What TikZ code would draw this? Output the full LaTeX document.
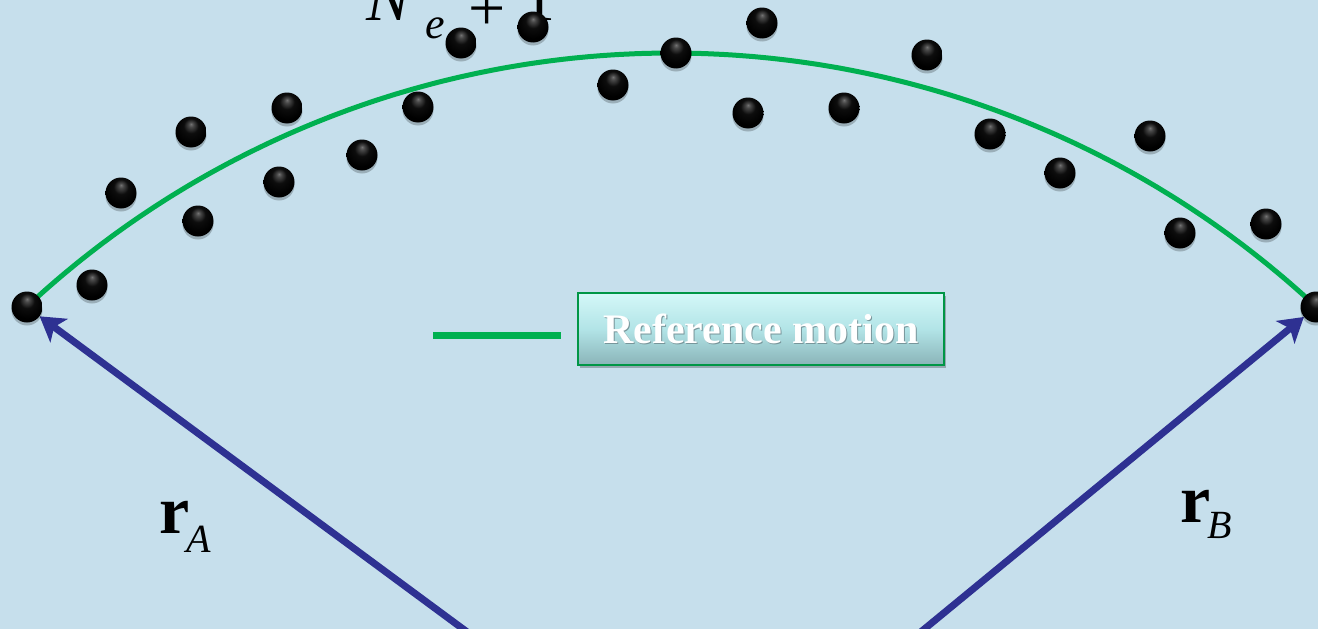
\documentclass[tikz,border=0pt]{standalone}
\usepackage{fontspec}
\setmainfont{Liberation Serif}
\usetikzlibrary{arrows.meta,shadows}
\definecolor{bg}{RGB}{198,223,236}
\definecolor{pgreen}{RGB}{0,176,80}
\definecolor{vblue}{RGB}{46,49,146}
\definecolor{boxtop}{RGB}{212,248,248}
\definecolor{boxmid}{RGB}{178,228,231}
\definecolor{boxbot}{RGB}{138,180,184}
\definecolor{boxedge}{RGB}{0,150,70}
\definecolor{txtshadow}{RGB}{120,150,155}
\pgfdeclareradialshading{darkball}{\pgfpoint{0bp}{13bp}}{color(0bp)=(black!55); color(4bp)=(black!72); color(12bp)=(black!95); color(25bp)=(black); color(50bp)=(black)}
\pgfdeclarelayer{bgl}
\pgfsetlayers{bgl,main}
\tikzset{
  dot/.style={circle, minimum size=31pt, inner sep=0pt, shading=darkball,
    drop shadow={shadow xshift=0pt, shadow yshift=-3pt, opacity=0.22, fill=black}},
  refline/.style={draw=pgreen, line width=5pt},
  keyline/.style={draw=pgreen, line width=7pt},
  vec/.style={draw=vblue, line width=7pt, -{Stealth[length=24pt,width=29pt,inset=6pt]}},
  legendbox/.style={rectangle, minimum width=366pt, minimum height=72pt, inner sep=0pt,
    draw=boxedge, line width=2pt, top color=boxtop, bottom color=boxbot, middle color=boxmid,
    text=white, font=\fontsize{42}{42}\selectfont\bfseries,
    drop shadow={shadow xshift=2pt, shadow yshift=-3pt, opacity=0.25, fill=black}},
  lbl/.style={anchor=base west, inner sep=0pt, text=black}
}
\begin{document}
\begin{tikzpicture}[x=1pt,y=-1pt]
\begin{pgfonlayer}{bgl}
\fill[bg] (0,0) rectangle (1318,629);
\end{pgfonlayer}
\useasboundingbox (0,0) rectangle (1318,629);
\clip (0,0) rectangle (1318,629);

% top label (cropped at the top edge)
\node[lbl] (Ne) at (366,20) {\fontsize{66}{66}\selectfont\itshape\rlap{N}\rlap{\kern59pt\raisebox{-18pt}{\fontsize{44}{44}\selectfont e}}\rlap{\kern102pt\raisebox{-10pt}{\upshape +}}\kern156pt\upshape 1};

% reference motion arc
\draw[refline] plot[domain=227.03:312.97, samples=150, smooth] ({671.5+946*cos(\x)},{999+946*sin(\x)});

% legend
\coordinate (k1) at (433,335);
\coordinate (k2) at (561,335);
\draw[keyline] (k1) -- (k2);
\node[legendbox] (leg) at (761,329) {\makebox[0pt][l]{\kern1pt\raisebox{-1pt}{\color{txtshadow}Reference motion}}Reference motion};

% labels
\node[lbl] (rA) at (159,533) {\fontsize{68}{68}\selectfont\bfseries r\kern-3pt\raisebox{-19pt}{\fontsize{40}{40}\selectfont\mdseries\itshape A}};
\node[lbl] (rB) at (1180,522) {\fontsize{68}{68}\selectfont\bfseries r\kern-3pt\raisebox{-16pt}{\fontsize{40}{40}\selectfont\mdseries\itshape B}};

% particles
\node[dot] (A) at (27,307) {};
\node[dot] (B) at (1316,307) {};
\node[dot] (d2) at (92,285) {};
\node[dot] (d3) at (121,193) {};
\node[dot] (d4) at (198,221) {};
\node[dot] (d5) at (191,132) {};
\node[dot] (d6) at (279,182) {};
\node[dot] (d7) at (287,108) {};
\node[dot] (d8) at (362,155) {};
\node[dot] (d9) at (418,107) {};
\node[dot] (d10) at (461,43) {};
\node[dot] (d11) at (533,27) {};
\node[dot] (d12) at (613,85) {};
\node[dot] (d13) at (676,53) {};
\node[dot] (d14) at (762,23) {};
\node[dot] (d15) at (748,113) {};
\node[dot] (d16) at (844,108) {};
\node[dot] (d17) at (927,55) {};
\node[dot] (d18) at (990,134) {};
\node[dot] (d19) at (1060,173) {};
\node[dot] (d20) at (1150,136) {};
\node[dot] (d21) at (1180,233) {};
\node[dot] (d22) at (1266,224) {};

% position vectors
\coordinate (OA) at (478,640);
\coordinate (OB) at (911,640);
\begin{pgfonlayer}{bgl}
\draw[vec] (OA) -- (A);
\draw[vec] (OB) -- (B);
\end{pgfonlayer}
\end{tikzpicture}
\end{document}
